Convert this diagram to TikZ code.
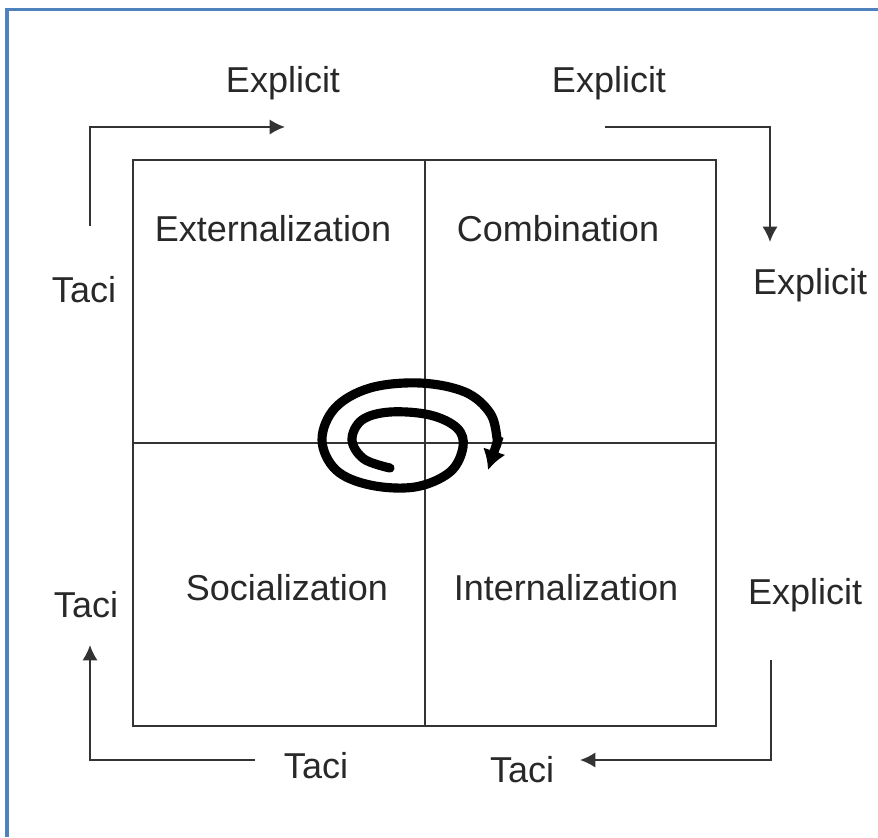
\documentclass[tikz,border=0pt]{standalone}
\usepackage{fontspec}
\setmainfont{Liberation Sans}
\usetikzlibrary{arrows,arrows.meta,calc,positioning}

\definecolor{frameblue}{RGB}{79,129,189}
\definecolor{textgrey}{RGB}{40,40,40}

\begin{document}
\begin{tikzpicture}[x=0.025cm,y=-0.025cm,>={Latex[length=11pt,width=11pt]}]
    \tikzstyle{lbl}=[text=textgrey,font=\fontsize{25.6}{30}\selectfont,inner sep=0pt]
    \tikzstyle{grid}=[draw=black!80,line width=2pt]
    \tikzstyle{flow}=[draw=black!80,line width=1.5pt]
    \tikzstyle{spiral}=[draw=black,line width=6.5pt]

    \useasboundingbox (0,0) rectangle (878,837);

    % frame
    \draw[frameblue,line width=2.2pt] (7,837) -- (7,9.5) -- (878,9.5);

    % quadrants
    \draw[grid] (133,160) rectangle (716,726);
    \draw[grid] (425,160) -- (425,726);
    \draw[grid] (133,443) -- (716,443);

    \node[lbl](ext) at (273,229){Externalization};
    \node[lbl](comb) at (558,229){Combination};
    \node[lbl](soc) at (287,588){Socialization};
    \node[lbl](int) at (566,588){Internalization};

    % side labels
    \node[lbl](explTL) at (283,83){Explicit};
    \node[lbl](explTR) at (609,83){Explicit};
    \node[lbl](explR) at (810,285){Explicit};
    \node[lbl](explBR) at (805,595){Explicit};
    \node[lbl](taciL) at (84,290){Taci};
    \node[lbl](taciBL) at (86,605){Taci};
    \node[lbl](taciB) at (316,766){Taci};
    \node[lbl](taciBR) at (522,770){Taci};

    % cycle arrows
    \coordinate (a1s) at (90,226);
    \coordinate (a1e) at (285,127);
    \coordinate (a2s) at (605,127);
    \coordinate (a2e) at (770,242);
    \coordinate (a3s) at (771,660);
    \coordinate (a3e) at (580,760);
    \coordinate (a4s) at (255,760);
    \coordinate (a4e) at (90,645);

    \draw[flow,->] (a1s) |- (a1e);
    \draw[flow,->] (a2s) -| (a2e);
    \draw[flow,->] (a3s) |- (a3e);
    \draw[flow,->] (a4s) -| (a4e);

    % spiral
    \coordinate (spEnd) at (496,446);
    \coordinate (spTip) at (488,470);
    \draw[spiral,line cap=round] plot[smooth,tension=0.6] coordinates {
      (390,468) (364,459) (352,440) (362,420) (390,412) (430,415) (457,428)
      (463,447) (450,472) (415,487) (370,485) (336,470) (322,440) (335,408)
      (370,388) (420,383) (465,392) (490,413) (497,438) (496,446)};
    \draw[spiral,-{Latex[length=14pt,width=17pt]}] ($(spEnd)!-0.4!(spTip)$) -- (spTip);
\end{tikzpicture}
\end{document}
